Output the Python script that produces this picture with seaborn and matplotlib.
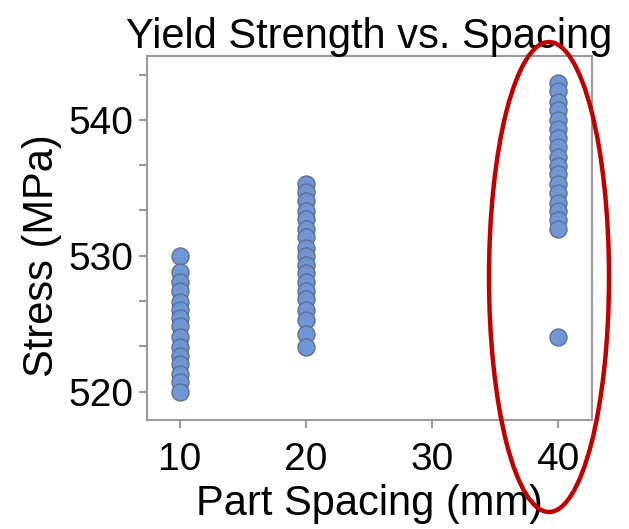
import pandas as pd
import seaborn as sns
import matplotlib.pyplot as plt
from matplotlib.patches import Ellipse
from matplotlib.ticker import AutoMinorLocator

# stress readings per part spacing (MPa)
stress_10 = [530.0, 528.8, 528.1, 527.4, 526.6, 526.0, 525.4, 524.8, 524.0,
             523.3, 522.6, 522.0, 521.3, 520.7, 520.0]
stress_20 = [535.3, 534.7, 534.0, 533.3, 532.7, 532.0, 531.4, 530.6, 530.0,
             529.3, 528.7, 528.1, 527.4, 526.8, 526.0, 525.3, 524.2, 523.3]
stress_40 = [542.7, 542.1, 541.3, 540.7, 540.0, 539.3, 538.7, 538.0, 537.3,
             536.6, 536.0, 535.3, 534.6, 533.9, 533.3, 532.6, 532.0, 524.0]
x_ticks = [10, 20, 30, 40]
y_ticks = [520, 530, 540]

df = pd.DataFrame({
    'spacing': [10] * len(stress_10) + [20] * len(stress_20) + [40] * len(stress_40),
    'stress': stress_10 + stress_20 + stress_40,
})

sns.set_style('white')
plt.rcParams['font.family'] = ['Liberation Sans', 'DejaVu Sans']
plt.rcParams['text.color'] = 'black'
plt.rcParams['axes.labelcolor'] = 'black'
plt.rcParams['xtick.color'] = 'black'
plt.rcParams['ytick.color'] = 'black'

fig = plt.figure(figsize=(6.29, 5.29), dpi=100)
ax = fig.add_axes([0.2337, 0.206, 0.7075, 0.688])

sns.scatterplot(data=df, x='spacing', y='stress', ax=ax, s=150,
                color='#7097d4', edgecolor='#5b6f95', linewidth=1.0, zorder=3)

ax.set_xlim(7.4, 42.7)
ax.set_ylim(517.9, 544.7)
ax.set_xticks(x_ticks)
ax.set_yticks(y_ticks)
ax.yaxis.set_minor_locator(AutoMinorLocator(3))
ax.tick_params(axis='both', which='both', direction='out', length=6, width=1.5,
               color='#999999', labelcolor='black', labelsize=28)
ax.tick_params(axis='x', bottom=True, pad=10)
ax.tick_params(axis='y', which='both', left=True, pad=4)

for sp in ax.spines.values():
    sp.set_color('#999999')
    sp.set_linewidth(1.5)

ax.set_title('Yield Strength vs. Spacing', fontsize=30, pad=6, color='black')
ax.set_xlabel('Part Spacing (mm)', fontsize=30, labelpad=4)
ax.set_ylabel('Stress (MPa)', fontsize=30)
ax.yaxis.set_label_coords(-0.19, 0.453)

# highlight around the 40 mm group
ring = Ellipse((549 / 629, 1 - 277 / 529), 120 / 629, 470 / 529,
               transform=fig.transFigure, fill=False, edgecolor='#c00000',
               linewidth=3.2, zorder=10)
fig.patches.append(ring)

fig.savefig('out.png', dpi=100)
